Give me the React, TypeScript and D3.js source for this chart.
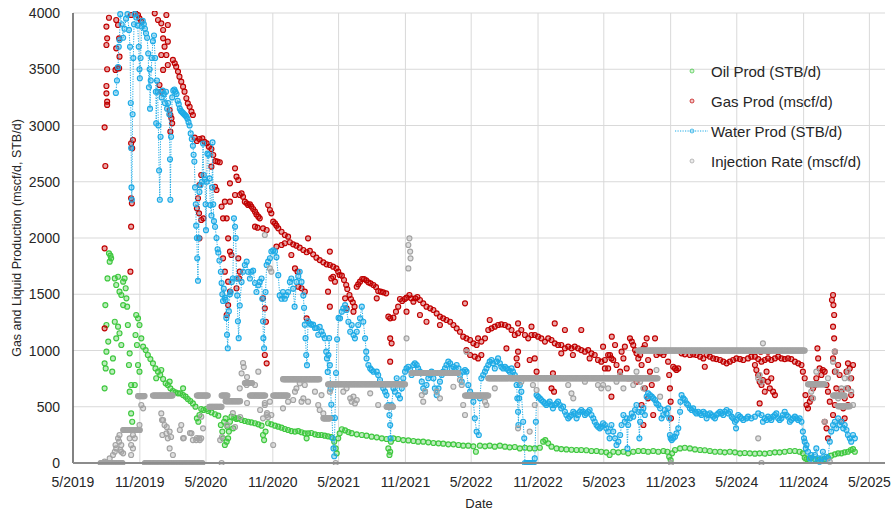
import React from "react";
import * as d3 from "d3";

// Each point is [days since 1 May 2019, daily rate]
type Pt = [number, number];

const AXIS_START = new Date(2019, 4, 1);
const AXIS_DAYS = 2235;
const X_TICK_COUNT = 13; // every 6 months, 5/2019 .. 5/2025
const Y_TICKS = [0, 500, 1000, 1500, 2000, 2500, 3000, 3500, 4000];

const SERIES_NAMES = [
  "Oil Prod (STB/d)",
  "Gas Prod (mscf/d)",
  "Water Prod (STB/d)",
  "Injection Rate (mscf/d)",
];

const oilProd: Pt[] = [
  [87, 664], [87, 886], [89, 1404], [90, 841], [92, 990], [92, 1227], [95, 1641], [97, 1079], [99, 1864], [101, 1790],
  [103, 1843], [105, 1819], [108, 812], [110, 930], [115, 1641], [115, 1256], [119, 1582], [119, 1108], [124, 1656], [124, 1212],
  [128, 1523], [128, 1153], [133, 1493], [133, 1049], [138, 1612], [138, 1404], [142, 1641], [145, 1553], [147, 1464], [149, 1390],
  [151, 1227], [154, 871], [156, 975], [156, 634], [160, 693], [160, 441], [163, 367], [170, 693], [172, 1138], [174, 1316],
  [176, 1049], [179, 1286], [179, 871], [183, 1227], [183, 812], [188, 1108],
  [193, 1034], [200, 1004], [206, 960], [213, 924], [220, 886], [227, 841], [234, 812], [240, 782], [248, 747], [255, 708],
  [261, 693], [268, 664], [275, 640], [282, 628], [289, 619], [295, 619], [303, 604], [310, 590], [316, 569], [323, 551],
  [330, 530], [337, 501], [341, 397], [345, 367], [348, 427], [353, 480], [359, 471], [367, 480], [229, 753], [243, 827],
  [266, 723], [303, 664],
  [372, 462], [381, 450], [391, 433], [400, 421], [407, 338], [411, 279], [413, 219], [416, 367], [418, 160], [420, 397],
  [423, 190], [425, 323], [427, 219], [429, 279], [432, 367], [436, 412], [441, 308], [444, 403], [450, 391], [455, 397],
  [464, 382], [473, 373], [482, 367], [491, 361], [501, 353], [510, 344], [519, 332], [523, 249], [526, 204], [530, 279],
  [537, 353], [546, 344], [556, 332], [565, 323], [574, 314], [583, 302], [592, 293], [601, 284], [611, 279], [620, 284],
  [629, 273], [638, 264], [643, 219], [647, 264], [656, 267], [666, 255], [675, 249], [684, 249], [693, 243], [702, 237],
  [711, 231], [719, 190], [723, 130], [726, 86], [730, 219], [734, 264],
  [740, 300], [749, 290], [758, 275], [767, 265], [781, 255], [795, 249], [808, 243], [822, 234], [836, 228], [850, 219],
  [863, 213], [868, 130], [871, 71], [873, 100], [875, 190], [882, 219], [895, 213], [909, 204], [923, 201], [937, 196],
  [950, 190], [964, 190], [978, 184], [992, 178], [1006, 175], [1019, 172], [1033, 166], [1047, 166], [1061, 160], [1074, 154],
  [1088, 154], [1102, 148], [1109, 100],
  [1120, 154], [1134, 148], [1147, 154], [1161, 145], [1175, 154], [1189, 145], [1202, 139], [1216, 142], [1230, 130], [1244, 136],
  [1257, 130], [1271, 130], [1285, 136], [1294, 190], [1300, 204], [1308, 175], [1317, 145], [1331, 130], [1344, 124], [1358, 121],
  [1372, 118], [1386, 116], [1399, 116], [1413, 113], [1427, 107], [1441, 107], [1454, 100], [1468, 95], [1477, 71],
  [1487, 100], [1501, 95], [1515, 100], [1528, 86], [1542, 100], [1556, 107], [1570, 107], [1583, 100], [1597, 107], [1611, 100],
  [1625, 107], [1636, 100], [1641, 56], [1645, 27], [1649, 86], [1657, 116], [1671, 130], [1684, 136], [1698, 130], [1712, 121],
  [1726, 116], [1739, 113], [1753, 107], [1767, 100], [1781, 100], [1794, 95], [1808, 100], [1822, 95], [1836, 86], [1849, 89],
  [1863, 86], [1877, 83], [1890, 86], [1904, 83], [1918, 89], [1932, 95], [1945, 95], [1959, 100], [1973, 107], [1987, 107],
  [2000, 100], [2009, 86], [2014, 47], [2019, 36], [2025, 41], [2032, 47], [2042, 36], [2051, 27], [2060, 24], [2069, 36],
  [2078, 47], [2087, 65], [2097, 77], [2106, 86], [2115, 86], [2124, 95], [2133, 100], [2141, 116], [2147, 124], [2152, 100],
];

const gasProd: Pt[] = [
  [87, 2984], [89, 2640], [87, 1908], [87, 1197], [92, 3879], [94, 3775], [92, 3716], [94, 3500], [92, 3351], [92, 3286],
  [94, 3212], [94, 3183], [99, 3958], [119, 3938], [119, 3686], [117, 3494], [122, 3508], [127, 3508], [127, 3775], [128, 3612],
  [124, 3893], [160, 3982], [160, 2842], [165, 2871], [163, 2797], [160, 2353], [162, 2308], [160, 2101], [158, 1701], [172, 3997],
  [179, 3982], [183, 3953], [188, 3923], [225, 3997], [234, 3938], [243, 3908], [248, 3849], [257, 3982], [261, 3893], [248, 3775],
  [252, 3701], [261, 3745], [243, 3627], [248, 3494], [238, 3360], [243, 3301], [257, 3627], [261, 3538], [266, 3138], [271, 3064],
  [273, 3019], [268, 3093], [268, 2945],
  [275, 3583], [280, 3553], [284, 3523], [289, 3479], [293, 3434], [298, 3390], [303, 3345], [307, 3301], [312, 3242], [316, 3197],
  [321, 3167], [326, 3123], [330, 3093], [335, 2892], [341, 2862], [348, 2880], [356, 2886], [362, 2856], [353, 2560], [348, 2471],
  [344, 2353], [341, 2264], [347, 2219], [353, 2160], [348, 1997], [359, 2175],
  [368, 2842], [374, 2812], [381, 2791], [386, 2738], [392, 2684], [398, 2679], [404, 2673], [381, 2634], [391, 2456], [395, 2427],
  [409, 2279], [418, 2323], [413, 2175], [423, 2175], [427, 1997], [432, 1879], [436, 1849], [418, 1701], [427, 1612], [423, 1316],
  [427, 1404], [432, 1523], [413, 1819], [432, 2323], [432, 2486], [446, 2619], [450, 2545], [455, 2516], [446, 2382], [459, 2382],
  [464, 2397], [468, 2367], [473, 2323], [478, 2308], [482, 2293], [487, 2299], [491, 2279], [496, 2258], [501, 2234], [505, 2210],
  [510, 2190], [514, 2175], [501, 2101], [508, 2092], [523, 2086], [533, 2071], [455, 1819], [459, 1701], [457, 1641], [450, 1553],
  [523, 1464], [528, 1375], [531, 1256], [528, 960], [533, 886], [537, 2293], [542, 2249], [546, 2219], [551, 2145], [556, 2130],
  [560, 2110], [565, 2086], [574, 2056], [583, 2027], [592, 2012], [560, 1923], [574, 1938], [583, 1953], [597, 1962], [606, 1944],
  [615, 1932], [624, 1914], [634, 1893], [643, 1873], [652, 1885], [661, 1855], [670, 1825], [679, 1804], [689, 1784], [698, 1766],
  [707, 1760], [716, 1745], [725, 1730], [730, 1701], [734, 1671], [601, 1849], [611, 1730], [618, 1701], [620, 1567], [629, 1553],
  [638, 1523], [643, 1286], [707, 1879], [711, 1641], [716, 1656], [702, 1523], [707, 1390], [721, 1612], [647, 1997],
  [740, 1665], [746, 1627], [752, 1582], [755, 1547], [761, 1493], [765, 1458], [770, 1428], [775, 1390], [749, 1464], [753, 1375],
  [772, 1345], [781, 1567], [785, 1588], [790, 1612], [796, 1636], [801, 1636], [807, 1624], [813, 1606], [819, 1597], [827, 1582],
  [834, 1564], [840, 1529], [847, 1523], [854, 1517], [862, 1508], [836, 1464], [868, 1301], [873, 1286], [873, 1108], [877, 1064],
  [873, 901], [882, 1292], [889, 1345], [895, 1390], [900, 1458], [906, 1440], [913, 1458], [918, 1470], [926, 1493], [931, 1464],
  [937, 1434], [942, 1464], [948, 1476], [955, 1449], [964, 1419], [973, 1390], [983, 1375], [992, 1360], [1001, 1330], [1010, 1301],
  [1019, 1286], [1028, 1271], [1038, 1256], [1047, 1227], [1056, 1197], [1065, 1167], [1074, 1123], [1083, 1108], [1093, 1093], [1102, 1064],
  [1111, 1049], [973, 1256], [1010, 1227], [1083, 1004], [1093, 960], [1079, 1419], [918, 1345], [955, 1316],
  [1115, 1108], [1124, 1079], [1134, 1108], [1143, 1182], [1152, 1197], [1161, 1212], [1170, 1227], [1179, 1232], [1189, 1227], [1198, 1212],
  [1207, 1182], [1216, 1138], [1225, 1153], [1234, 1182], [1244, 1138], [1253, 1108], [1262, 1138], [1271, 1138], [1280, 1123], [1289, 1108],
  [1299, 1079], [1308, 1108], [1317, 1093], [1326, 1064], [1335, 1049], [1344, 1049], [1354, 1019], [1363, 1034], [1372, 1019], [1381, 1034],
  [1390, 1019], [1399, 1004], [1409, 990], [1418, 1004], [1427, 975], [1436, 960], [1445, 916], [1454, 901], [1464, 916], [1473, 960],
  [1482, 930], [1106, 945], [1115, 930], [1124, 960], [1147, 1271], [1193, 1019], [1221, 930], [1223, 871], [1225, 990], [1257, 916],
  [1271, 930], [1276, 812], [1225, 1241], [1262, 1212], [1326, 1241], [1321, 797], [1317, 664], [1324, 634], [1344, 975], [1354, 1182],
  [1376, 960], [1399, 1182], [1422, 930], [1459, 1034], [1464, 841], [1473, 841], [1482, 590],
  [1478, 960], [1483, 1123], [1487, 916], [1492, 1049], [1496, 871], [1506, 812], [1510, 990], [1515, 930], [1519, 1034], [1524, 841],
  [1528, 753], [1533, 1108], [1538, 1079], [1542, 1049], [1547, 1004], [1551, 975], [1556, 930], [1561, 960], [1565, 871], [1570, 1019],
  [1574, 1049], [1579, 1108], [1583, 916], [1588, 812], [1593, 693], [1597, 427], [1602, 1108], [1606, 960], [1611, 990], [1616, 975],
  [1625, 960], [1629, 990], [1638, 901], [1641, 782], [1643, 664], [1645, 545], [1646, 397], [1652, 856], [1657, 841], [1661, 827],
  [1666, 841], [1675, 975], [1684, 966], [1698, 960], [1707, 966], [1716, 960], [1726, 945], [1735, 930], [1739, 856], [1744, 960],
  [1753, 945], [1762, 930], [1771, 924], [1781, 916], [1790, 901], [1799, 886], [1808, 901], [1817, 916], [1826, 930], [1836, 924],
  [1845, 916], [1574, 664], [1565, 516], [1570, 338], [1583, 575], [1551, 723],
  [1858, 930], [1867, 945], [1877, 945], [1886, 924], [1895, 901], [1904, 916], [1913, 930], [1922, 916], [1932, 930], [1941, 945],
  [1950, 930], [1959, 924], [1968, 930], [1977, 924], [1987, 901], [1996, 886],
  [1881, 827], [1886, 782], [1890, 723], [1895, 693], [1899, 738], [1904, 634], [1909, 812], [1913, 723], [1918, 664], [1922, 753],
  [1927, 634], [1932, 604], [1890, 530], [1877, 871], [1893, 990], [1913, 990],
  [2005, 871], [2009, 812], [2014, 753], [2016, 604], [2019, 516], [2023, 486], [2028, 545], [2032, 575], [2037, 664], [2042, 693],
  [2046, 753], [2049, 1019], [2051, 930], [2055, 841], [2060, 782], [2064, 827], [2069, 812], [2074, 693], [2078, 634], [2083, 545],
  [2069, 367], [2074, 308], [2078, 219], [2089, 1449], [2092, 1493], [2093, 1404], [2095, 1316], [2092, 1212], [2095, 1108], [2097, 990],
  [2092, 930], [2097, 812], [2101, 664], [2097, 516], [2092, 427], [2106, 871], [2110, 782], [2115, 634], [2120, 486], [2124, 397],
  [2129, 812], [2133, 886], [2138, 841], [2142, 753], [2147, 871], [2133, 664], [2142, 604], [2124, 575], [2115, 367], [2133, 516],
];

// Water is plotted in date order and joined by a dotted line
const waterProd: Pt[] = [
  [118, 3290], [121, 3400], [124, 3520], [126, 3700], [128, 3760], [130, 3990], [134, 3900], [138, 3780], [142, 3860], [146, 3950],
  [150, 3990], [154, 3850], [157, 3700], [159, 3200], [160, 2800], [161, 2450], [162, 2340], [164, 3100], [166, 3600], [168, 3900],
  [170, 3990], [174, 3960], [178, 3890], [181, 3700], [183, 3500], [184, 3420], [186, 3600], [189, 3880], [192, 3930], [195, 3900],
  [198, 3860], [201, 3820], [204, 3780], [207, 3640], [209, 3340], [211, 3500], [212, 3150], [214, 3400], [217, 3600], [220, 3750],
  [223, 3800], [226, 3600], [228, 3300], [229, 3020], [231, 3400], [233, 3300], [235, 3000], [237, 2600], [239, 2340], [241, 2900],
  [244, 3250], [247, 3310], [250, 3280], [253, 3200], [256, 3300], [259, 3150], [262, 3200], [265, 3100], [267, 2700], [268, 2340],
  [270, 2900], [273, 3250], [276, 3310], [279, 3320], [282, 3300], [285, 3280], [288, 3220], [291, 3190], [294, 3150], [297, 3130],
  [300, 3120], [303, 3110], [306, 3100], [309, 3090], [312, 3080], [315, 3060], [318, 3030], [321, 3000], [324, 2930], [327, 2880],
  [330, 2820], [332, 2740], [334, 2680], [336, 2450], [338, 2300], [339, 2110], [341, 2000], [342, 1820], [344, 1620], [346, 2000],
  [348, 2410], [351, 2470], [355, 2500], [358, 2840], [360, 2560], [363, 2520], [365, 2300], [366, 2070], [368, 2500], [370, 2750],
  [373, 2740], [376, 2530], [378, 2293], [381, 2200], [383, 2450], [384, 2850], [386, 2300], [388, 2150], [391, 2100], [395, 2000],
  [398, 1900], [400, 1870], [403, 1800], [407, 1700], [409, 1600], [411, 1500], [413, 1440], [415, 1550], [418, 1470], [420, 1450],
  [422, 1290], [424, 1140], [426, 1020], [429, 1350], [432, 1500], [434, 1520], [437, 1610], [440, 1640], [443, 2175], [446, 2100],
  [448, 2000], [450, 1640], [452, 1490], [454, 1260], [456, 1110], [459, 1400], [464, 1610], [468, 1700], [473, 1760], [478, 1790],
  [482, 1700], [487, 1640], [491, 1700], [496, 1710], [501, 1600], [505, 1520], [510, 1580], [514, 1610], [519, 1640], [521, 1460],
  [523, 1260], [524, 1110], [526, 1020], [530, 1520], [533, 1760], [537, 1790], [542, 1820], [546, 1880], [551, 1890], [556, 1880],
  [560, 1830], [565, 1670], [569, 1490], [574, 1460], [578, 1520], [583, 1460], [587, 1490], [592, 1520], [597, 1610], [601, 1640],
  [606, 1550], [610, 1390], [615, 1610], [620, 1660], [624, 1700], [629, 1610], [634, 1490], [636, 1380], [638, 1230], [640, 1110],
  [642, 960], [644, 870], [647, 1260], [652, 1240], [656, 1230], [661, 1230], [666, 1200], [670, 1200], [675, 1140], [679, 1210],
  [684, 1170], [688, 1140], [693, 1110], [697, 990], [699, 930], [701, 810], [703, 960], [705, 1110], [707, 870], [709, 660],
  [711, 520], [713, 400], [715, 220], [717, 130], [719, 60], [721, 400], [724, 800], [727, 1100], [731, 1290],
  [735, 1286], [740, 1345], [744, 1375], [749, 1404], [753, 1360], [758, 1256], [763, 1167], [767, 1227], [772, 1138], [776, 1108],
  [781, 1167], [785, 1227], [790, 1286], [795, 1390], [799, 1256], [804, 1108], [807, 990], [808, 930], [813, 871], [818, 841],
  [822, 827], [827, 812], [836, 812], [840, 782], [845, 738], [850, 693], [854, 664], [859, 634], [863, 604], [868, 516],
  [871, 427], [873, 338], [874, 219], [877, 516], [882, 664], [886, 634], [891, 753], [895, 604], [900, 575], [905, 664],
  [909, 753], [914, 812], [918, 841], [923, 856], [928, 827], [932, 782], [937, 871], [941, 886], [946, 871], [950, 841],
  [955, 812], [960, 723], [964, 664], [969, 634], [973, 693], [978, 753], [983, 782], [987, 812], [992, 753], [996, 664],
  [1001, 604], [1006, 664], [1010, 723], [1015, 782], [1019, 812], [1024, 841], [1028, 871], [1033, 901], [1038, 886], [1042, 841],
  [1047, 856], [1051, 827], [1056, 871], [1061, 841], [1065, 782], [1070, 723], [1074, 812], [1079, 827], [1083, 812], [1088, 693],
  [1093, 634], [1097, 604], [1102, 545], [1106, 397], [1111, 279],
  [1117, 249], [1120, 575], [1124, 753], [1129, 782], [1134, 812], [1138, 841], [1143, 871], [1147, 901], [1152, 916], [1156, 886],
  [1161, 841], [1166, 901], [1170, 930], [1175, 886], [1179, 856], [1184, 841], [1189, 856], [1193, 841], [1198, 827], [1202, 812],
  [1207, 841], [1211, 812], [1216, 782], [1221, 693], [1223, 575], [1225, 456], [1226, 338], [1228, 575], [1230, 693], [1234, 634],
  [1239, 367], [1242, 219], [1244, 0], [1248, 0], [1252, 0], [1256, 0], [1260, 0], [1264, 0], [1268, 0], [1271, 41],
  [1274, 367], [1276, 604], [1280, 590], [1285, 575], [1289, 560], [1294, 545], [1299, 530], [1303, 516], [1308, 530], [1312, 545],
  [1317, 516], [1321, 486], [1326, 516], [1331, 530], [1335, 545], [1340, 516], [1344, 486], [1349, 501], [1354, 456], [1358, 427],
  [1363, 397], [1367, 412], [1372, 427], [1377, 456], [1381, 441], [1386, 397], [1390, 427], [1395, 456], [1399, 471], [1404, 456],
  [1409, 427], [1413, 441], [1418, 456], [1422, 471], [1427, 427], [1432, 397], [1436, 367], [1441, 338], [1445, 323], [1450, 308],
  [1454, 323], [1459, 353], [1464, 338], [1468, 308], [1473, 279], [1477, 219], [1482, 338],
  [1487, 279], [1492, 219], [1496, 160], [1501, 190], [1506, 249], [1510, 338], [1515, 427], [1519, 367], [1524, 397], [1526, 130],
  [1528, 338], [1533, 397], [1538, 441], [1542, 412], [1547, 471], [1551, 516], [1556, 456], [1559, 219], [1561, 367], [1565, 456],
  [1570, 486], [1574, 427], [1579, 590], [1583, 619], [1588, 604], [1593, 590], [1597, 575], [1602, 560], [1606, 530], [1611, 516],
  [1616, 486], [1620, 397], [1625, 427], [1629, 471], [1634, 441], [1638, 486], [1641, 397], [1643, 249], [1645, 219], [1648, 204],
  [1652, 219], [1657, 234], [1661, 264], [1666, 308], [1671, 456], [1672, 545], [1675, 604], [1680, 575], [1684, 560], [1689, 530],
  [1693, 516], [1698, 486], [1703, 471], [1707, 486], [1712, 456], [1716, 441], [1721, 456], [1726, 441], [1730, 427], [1735, 456],
  [1739, 441], [1744, 397], [1748, 427], [1753, 441], [1758, 427], [1762, 412], [1767, 397], [1771, 427], [1776, 441], [1781, 456],
  [1785, 441], [1790, 427], [1794, 456], [1799, 471], [1804, 441], [1808, 456], [1813, 412], [1817, 397], [1822, 367], [1825, 308],
  [1826, 382], [1831, 427], [1836, 412], [1840, 397], [1845, 382], [1854, 397],
  [1858, 412], [1867, 397], [1877, 412], [1886, 441], [1895, 427], [1899, 367], [1904, 397], [1909, 382], [1913, 412], [1918, 397],
  [1922, 382], [1927, 412], [1932, 427], [1936, 441], [1941, 397], [1945, 382], [1950, 397], [1954, 427], [1959, 456], [1964, 427],
  [1968, 412], [1973, 367], [1977, 382], [1982, 397], [1987, 412], [1991, 397], [1996, 382], [2000, 397], [2005, 367], [2009, 279],
  [2012, 219], [2014, 190], [2017, 130], [2019, 160], [2023, 100], [2028, 41], [2032, 71], [2037, 27], [2042, 71], [2046, 130],
  [2051, 41], [2055, 12], [2060, 41], [2064, 100], [2069, 27], [2074, 56], [2078, 41], [2083, 190], [2087, 279], [2092, 338],
  [2097, 367], [2101, 308], [2106, 397], [2110, 338], [2115, 367], [2120, 308], [2124, 338], [2129, 293], [2133, 249], [2138, 219],
  [2142, 190], [2147, 249], [2152, 219],
];

// Injection held at a set rate: [first day, last day, rate]
const injectionPlateaus: [number, number, number][] = [
  [76, 136, 0], [138, 184, 293], [179, 197, 595], [198, 356, 0], [220, 275, 600], [341, 372, 600], [375, 410, 500],
  [409, 425, 600], [420, 460, 550], [473, 493, 711], [487, 530, 600], [551, 592, 600], [578, 679, 745], [689, 707, 397],
  [702, 914, 700], [863, 882, 500], [932, 1061, 800], [1079, 1143, 600], [1143, 1610, 753], [1556, 2014, 1000],
  [2023, 2069, 700], [2092, 2124, 600], [2106, 2138, 505],
];

// Injection readings off the set rates
const injectionScatter: Pt[] = [
  [87, 12], [101, 41], [110, 71], [115, 100], [119, 130], [117, 160], [124, 219], [128, 249], [127, 190], [130, 116],
  [133, 100], [138, 86], [133, 160], [156, 219], [160, 160], [165, 130], [160, 71], [165, 249], [170, 219], [183, 338],
  [188, 516], [193, 486], [243, 441], [248, 382], [252, 338], [246, 249], [257, 264], [266, 279], [261, 219], [266, 130],
  [275, 71], [298, 338], [303, 219], [326, 264], [330, 204], [339, 204], [347, 219], [353, 219], [358, 308], [353, 412],
  [245, 382], [258, 320], [270, 231], [294, 293], [305, 222], [322, 267], [341, 222], [349, 204], [405, 204], [410, 231],
  [424, 338], [446, 320], [468, 889], [470, 853], [479, 764], [464, 797], [459, 664], [478, 693], [528, 533], [534, 444],
  [537, 409], [440, 444], [460, 409], [479, 533], [515, 471],
  [501, 693], [528, 516], [533, 427], [523, 397], [542, 545], [546, 427], [551, 160], [578, 486], [592, 545], [606, 560],
  [611, 634], [615, 664], [624, 708], [629, 545], [634, 575], [638, 693], [647, 545], [666, 634], [675, 516], [679, 471],
  [684, 604], [689, 441], [707, 634], [542, 1730], [546, 1701], [528, 2027], [409, 0], [723, 0], [510, 812],
  [744, 634], [753, 664], [763, 575], [772, 590], [781, 560], [767, 545], [776, 530], [818, 619], [840, 516], [923, 1938],
  [928, 1879], [929, 1819], [923, 1730], [926, 1997], [918, 1108], [960, 604], [964, 545], [969, 634], [1001, 634], [1010, 575],
  [1047, 678], [1065, 738], [1070, 693], [1074, 516], [1079, 427], [1083, 990],
  [1161, 664], [1134, 545], [1138, 516], [1266, 693], [1276, 649], [1225, 308], [1257, 279], [1271, 516], [1363, 693], [1372, 619],
  [1377, 575], [1409, 723], [1445, 693], [1454, 664], [1459, 693], [1473, 664], [1234, 723],
  [1496, 723], [1506, 782], [1515, 664], [1533, 753], [1542, 693], [1551, 812], [1561, 723], [1570, 664], [1606, 827], [1616, 590],
  [1646, 0],
  [1899, 1064], [1886, 753], [1890, 782], [1895, 723], [1886, 219], [2046, 812], [2078, 753], [2092, 901], [2097, 990], [2101, 812],
  [2106, 575], [2124, 753], [2133, 812], [2138, 753], [2142, 634], [2147, 516], [2069, 367], [2032, 634], [2037, 575], [2115, 664],
  [2129, 664], [1895, 0], [2083, 12],
];

const COLORS = {
  oil: "#3fc83f",
  gas: "#c00000",
  water: "#1fabe6",
  injection: "#a3a3a3",
};

const W = 891;
const H = 510;
const PLOT = { left: 73, right: 885, top: 13, bottom: 463 };
const FONT = "'Liberation Sans', Arial, sans-serif";
const R = 2.5;

export default function App() {
  const axisEnd = d3.timeDay.offset(AXIS_START, AXIS_DAYS);
  const x = d3.scaleTime().domain([AXIS_START, axisEnd]).range([PLOT.left, PLOT.right]);
  const y = d3.scaleLinear().domain([0, 4000]).range([PLOT.bottom, PLOT.top]);
  const day = (d: number) => d3.timeDay.offset(AXIS_START, d);
  const px = (p: Pt) => x(day(p[0]));
  const py = (p: Pt) => y(p[1]);

  const xTicks = d3.range(X_TICK_COUNT).map((i) => d3.timeMonth.offset(AXIS_START, i * 6));
  const fmt = (d: Date) => `${d.getMonth() + 1}/${d.getFullYear()}`;

  const injection: Pt[] = [
    ...injectionPlateaus.flatMap(([a, b, v]) => d3.range(a, b + 1, 2).map((d) => [d, v] as Pt)),
    ...injectionScatter,
  ];

  const waterLine = d3.line<Pt>().x(px).y(py)(waterProd) || "";

  const markers = (data: Pt[], color: string, key: string) => (
    <g key={key}>
      {data.map((p, i) => (
        <circle
          key={i}
          cx={px(p)}
          cy={py(p)}
          r={R}
          fill={color}
          fillOpacity={0.35}
          stroke={color}
          strokeWidth={1.15}
        />
      ))}
    </g>
  );

  const legendRows = [
    { name: SERIES_NAMES[0], color: COLORS.oil, y: 71, line: false },
    { name: SERIES_NAMES[1], color: COLORS.gas, y: 101, line: false },
    { name: SERIES_NAMES[2], color: COLORS.water, y: 131, line: true },
    { name: SERIES_NAMES[3], color: COLORS.injection, y: 161, line: false },
  ];

  return (
    <svg
      width={W}
      height={H}
      style={{ position: "absolute", left: 0, top: 0, background: "#fff" }}
      fontFamily={FONT}
    >
      <defs>
        <clipPath id="plot-clip">
          <rect x={PLOT.left} y={PLOT.top - 2} width={PLOT.right - PLOT.left} height={PLOT.bottom - PLOT.top + 4} />
        </clipPath>
      </defs>

      {/* gridlines */}
      <g stroke="#d9d9d9" strokeWidth={1}>
        {Y_TICKS.filter((t) => t > 0).map((t) => (
          <line key={t} x1={PLOT.left} x2={PLOT.right} y1={y(t)} y2={y(t)} />
        ))}
        {xTicks.slice(1).map((t) => (
          <line key={+t} x1={x(t)} x2={x(t)} y1={PLOT.top} y2={PLOT.bottom} />
        ))}
      </g>

      {/* series */}
      <g clipPath="url(#plot-clip)">
        {markers(oilProd, COLORS.oil, "oil")}
        {markers(gasProd, COLORS.gas, "gas")}
        <path d={waterLine} fill="none" stroke={COLORS.water} strokeWidth={1} strokeDasharray="1.2 1.3" />
        {markers(waterProd, COLORS.water, "water")}
        {markers(injection, COLORS.injection, "inj")}
      </g>

      {/* axes */}
      <line x1={PLOT.left} x2={PLOT.left} y1={PLOT.top} y2={PLOT.bottom} stroke="#595959" strokeWidth={1.5} />
      <line x1={PLOT.left} x2={PLOT.right} y1={PLOT.bottom} y2={PLOT.bottom} stroke="#8c8c8c" strokeWidth={2} />

      <g fontSize={14} fill="#262626">
        {Y_TICKS.map((t) => (
          <text key={t} x={60} y={y(t)} textAnchor="end" dominantBaseline="central">
            {t}
          </text>
        ))}
        {xTicks.map((t) => (
          <text key={+t} x={x(t)} y={482} textAnchor="middle" dominantBaseline="central">
            {fmt(t)}
          </text>
        ))}
      </g>

      <text x={(PLOT.left + PLOT.right) / 2} y={503} textAnchor="middle" dominantBaseline="central" fontSize={13} fill="#262626">
        Date
      </text>
      <text
        transform={`translate(17,${(PLOT.top + PLOT.bottom) / 2}) rotate(-90)`}
        textAnchor="middle"
        dominantBaseline="central"
        fontSize={12.5}
        fill="#262626"
      >
        Gas and Liquid Production (mscf/d, STB/d)
      </text>

      {/* legend */}
      <g>
        {legendRows.map((r) => (
          <g key={r.name}>
            {r.line && (
              <line x1={675} x2={708} y1={r.y} y2={r.y} stroke={r.color} strokeWidth={1} strokeDasharray="1.2 1.3" />
            )}
            <circle cx={692} cy={r.y} r={2} fill={r.color} fillOpacity={0.22} stroke={r.color} strokeWidth={1} strokeOpacity={0.7} />
            <text x={711} y={r.y} dominantBaseline="central" fontSize={15} fill="#262626">
              {r.name}
            </text>
          </g>
        ))}
      </g>
    </svg>
  );
}
